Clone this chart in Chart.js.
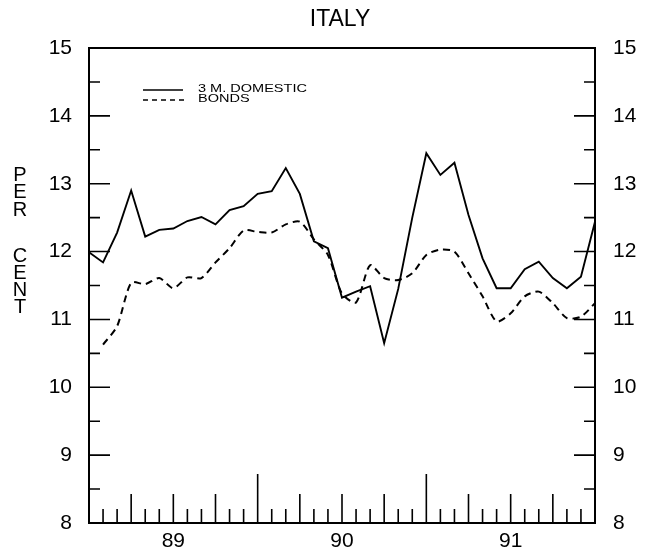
<!DOCTYPE html>
<html>
<head>
<meta charset="utf-8">
<script src="https://cdn.jsdelivr.net/npm/chart.js@4.4.1/dist/chart.umd.min.js"></script>
<style>
  html, body { margin: 0; padding: 0; background: #fff; }
  #wrap { width: 652px; height: 559px; }
</style>
</head>
<body>
<div id="wrap"><canvas id="myChart"></canvas></div>
<script>
const months = [
  'Jan 89', 'Feb 89', 'Mar 89', 'Apr 89', 'May 89', 'Jun 89',
  'Jul 89', 'Aug 89', 'Sep 89', 'Oct 89', 'Nov 89', 'Dec 89',
  'Jan 90', 'Feb 90', 'Mar 90', 'Apr 90', 'May 90', 'Jun 90',
  'Jul 90', 'Aug 90', 'Sep 90', 'Oct 90', 'Nov 90', 'Dec 90',
  'Jan 91', 'Feb 91', 'Mar 91', 'Apr 91', 'May 91', 'Jun 91',
  'Jul 91', 'Aug 91', 'Sep 91', 'Oct 91', 'Nov 91', 'Dec 91',
  'Jan 92',
];
const domestic3m = [
  11.99, 11.84, 12.28, 12.90, 12.22, 12.32, 12.34, 12.45, 12.51, 12.40,
  12.61, 12.67, 12.85, 12.89, 13.23, 12.85, 12.15, 12.05, 11.32, 11.41,
  11.49, 10.65, 11.45, 12.50, 13.45, 13.13, 13.31, 12.54, 11.90, 11.46,
  11.46, 11.74, 11.85, 11.61, 11.46, 11.63, 12.44,
];
const bonds = [
  null, 10.63, 10.90, 11.54, 11.52, 11.61, 11.46, 11.62, 11.61, 11.84,
  12.05, 12.31, 12.29, 12.28, 12.40, 12.44, 12.18, 11.95, 11.38, 11.25,
  11.80, 11.61, 11.58, 11.68, 11.95, 12.03, 12.00, 11.68, 11.34, 10.97,
  11.09, 11.34, 11.41, 11.24, 11.02, 11.04, 11.24,
];
const yearLabels = ['89', '90', '91'];
const yearLabelIndex = [6, 18, 30];
const yLetters = ['P', 'E', 'R', 'C', 'E', 'N', 'T'];
const yLetterRows = [175, 192, 210, 256, 273, 290, 307];

const FONT = "'Liberation Sans', Arial, sans-serif";

// box, inward ticks, title, stacked axis title and the little legend
const frame = {
  id: 'frame',
  afterDraw(chart) {
    const { ctx, chartArea: a, scales } = chart;
    const x = scales.x;
    const y = scales.y;
    ctx.save();
    ctx.strokeStyle = '#000';
    ctx.lineWidth = 2;
    ctx.strokeRect(a.left, a.top, a.right - a.left, a.bottom - a.top);

    ctx.lineWidth = 1.6;
    ctx.beginPath();
    for (let v = 8.5; v < 15; v += 0.5) {
      const py = y.getPixelForValue(v);
      const len = v % 1 === 0 ? 21 : 11;
      ctx.moveTo(a.left, py);
      ctx.lineTo(a.left + len, py);
      ctx.moveTo(a.right, py);
      ctx.lineTo(a.right - len, py);
    }
    for (let i = 1; i < months.length - 1; i++) {
      const px = x.getPixelForValue(i);
      const len = i % 12 === 0 ? 49 : i % 3 === 0 ? 29 : 14;
      ctx.moveTo(px, a.bottom);
      ctx.lineTo(px, a.bottom - len);
    }
    ctx.stroke();

    ctx.fillStyle = '#000';
    ctx.textAlign = 'center';
    ctx.textBaseline = 'middle';
    ctx.font = '23px ' + FONT;
    ctx.fillText('ITALY', 340, 20);

    ctx.font = '20px ' + FONT;
    yLetters.forEach((ch, k) => {
      ctx.fillText(ch, 20, yLetterRows[k]);
    });

    // legend
    ctx.lineWidth = 1.6;
    ctx.beginPath();
    ctx.moveTo(143, 90);
    ctx.lineTo(183, 90);
    ctx.stroke();
    ctx.setLineDash([5, 4]);
    ctx.beginPath();
    ctx.moveTo(143, 100);
    ctx.lineTo(184, 100);
    ctx.stroke();
    ctx.setLineDash([]);

    ctx.textAlign = 'left';
    ctx.font = '11px ' + FONT;
    ctx.save();
    ctx.translate(198, 0);
    ctx.scale(1.32, 1);
    ctx.fillText('3 M. DOMESTIC', 0, 88.5);
    ctx.fillText('BONDS', 0, 99);
    ctx.restore();
    ctx.restore();
  },
};

const ctx = document.getElementById('myChart');
const myChart = new Chart(ctx, {
  type: 'line',
  data: {
    labels: months,
    datasets: [
      {
        label: '3 M. DOMESTIC',
        data: domestic3m,
        borderColor: '#000',
        borderWidth: 1.9,
        pointRadius: 0,
        tension: 0,
      },
      {
        label: 'BONDS',
        data: bonds,
        borderColor: '#000',
        borderWidth: 2,
        borderDash: [7, 5],
        pointRadius: 0,
        tension: 0.25,
      },
    ],
  },
  plugins: [frame],
  options: {
    responsive: true,
    maintainAspectRatio: false,
    animation: false,
    layout: {
      padding: { top: 48, left: 0, right: 0, bottom: 0 },
    },
    plugins: {
      legend: { display: false },
      tooltip: { enabled: false },
    },
    scales: {
      x: {
        type: 'category',
        offset: false,
        grid: { display: false, drawTicks: false },
        border: { display: false },
        afterFit: (scale) => {
          scale.height = 36;
        },
        ticks: {
          autoSkip: false,
          maxRotation: 0,
          padding: 6,
          color: '#000',
          font: { family: FONT, size: 21 },
          callback: (val, i) => {
            const k = yearLabelIndex.indexOf(i);
            return k < 0 ? '' : yearLabels[k];
          },
        },
      },
      y: {
        position: 'left',
        min: 8,
        max: 15,
        grid: { display: false, drawTicks: false },
        border: { display: false },
        afterFit: (scale) => {
          scale.width = 89;
        },
        ticks: {
          stepSize: 1,
          padding: 17,
          color: '#000',
          font: { family: FONT, size: 21 },
        },
      },
      y2: {
        position: 'right',
        min: 8,
        max: 15,
        grid: { display: false, drawTicks: false },
        border: { display: false },
        afterFit: (scale) => {
          scale.width = 57;
        },
        ticks: {
          stepSize: 1,
          padding: 18,
          color: '#000',
          font: { family: FONT, size: 21 },
        },
      },
    },
  },
});
</script>
</body>
</html>
